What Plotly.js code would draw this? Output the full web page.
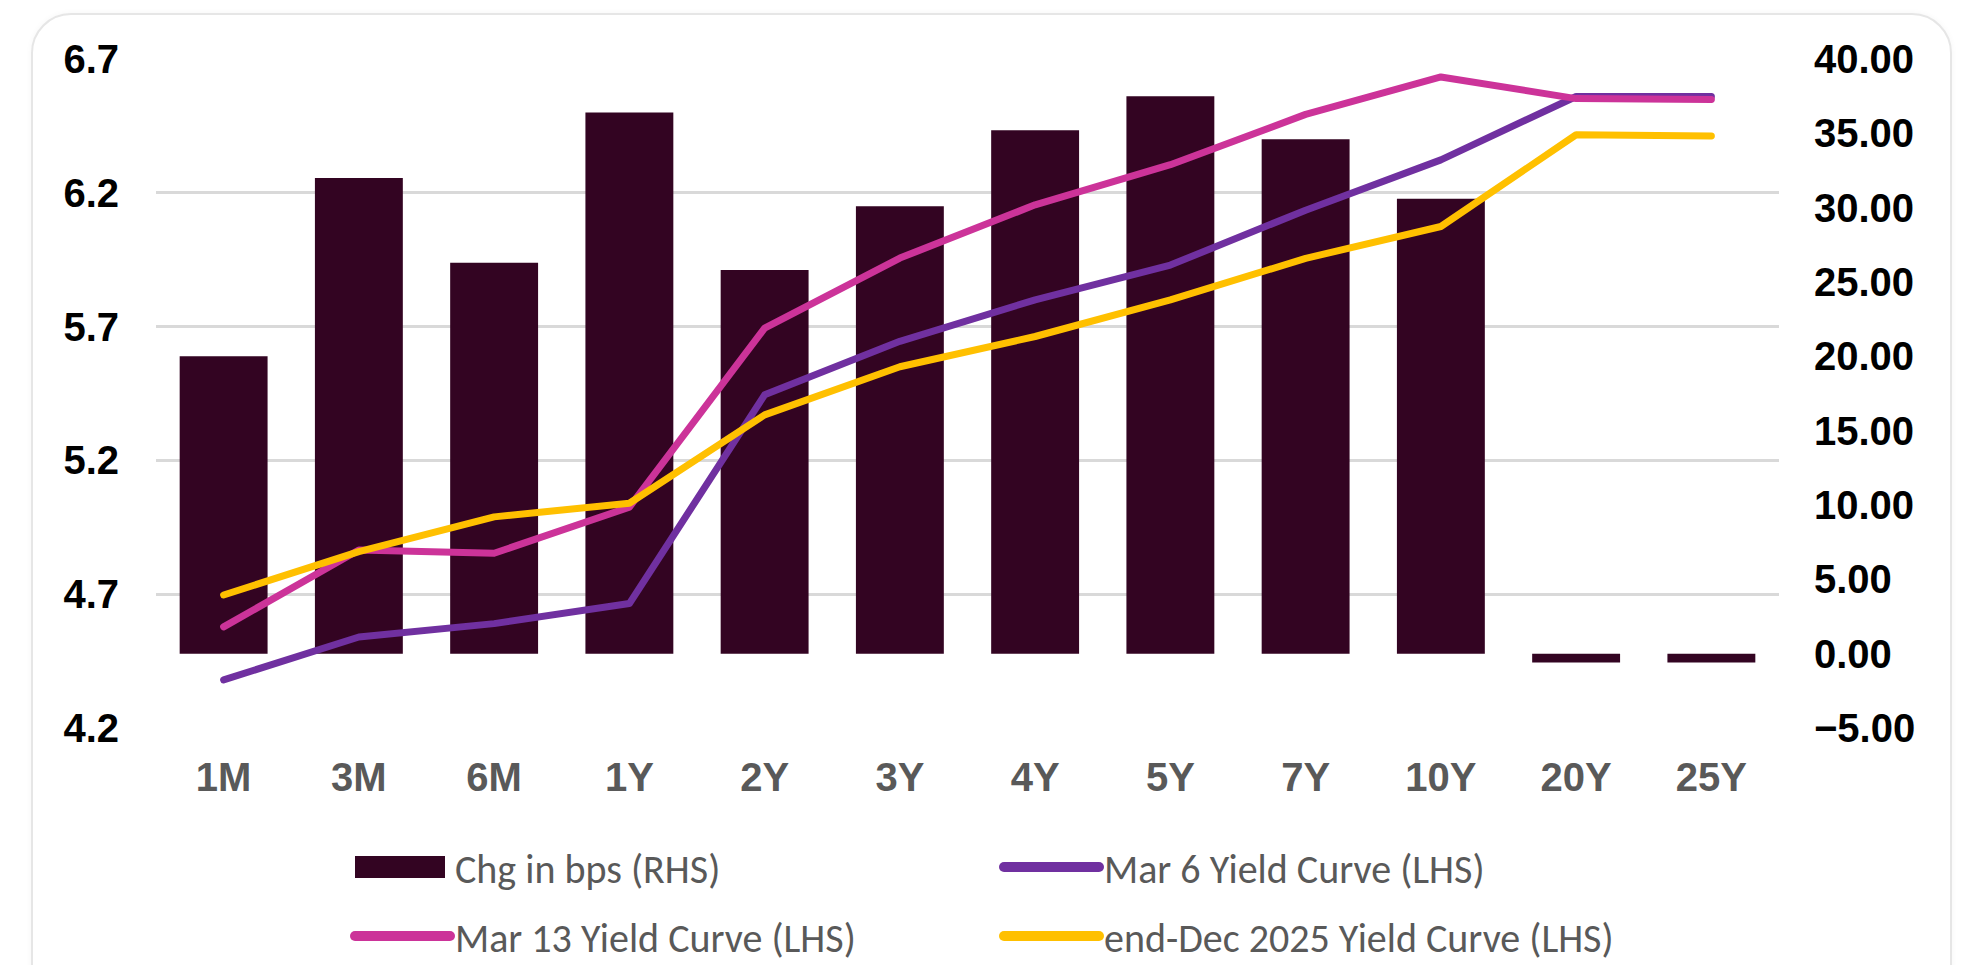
<!DOCTYPE html>
<html>
<head>
<meta charset="utf-8">
<script src="https://cdn.plot.ly/plotly-3.0.1.min.js"></script>
<style>
  html, body { margin: 0; padding: 0; background: #ffffff; }
  #card {
    position: absolute; left: 31px; top: 13px; width: 1917px; height: 1000px;
    border: 2px solid #e6e6e6; border-radius: 40px; background: #ffffff;
    box-shadow: 0 0 6px rgba(0,0,0,0.04);
  }
  #chart { position: absolute; left: 0; top: 0; width: 1970px; height: 965px; }
  .scatterlayer path.js-line { stroke-linecap: round; stroke-linejoin: round; }
</style>
</head>
<body>
<div id="card"></div>
<div id="chart"></div>
<script>
// ---- data ----
const categories = ['1M', '3M', '6M', '1Y', '2Y', '3Y', '4Y', '5Y', '7Y', '10Y', '20Y', '25Y'];
const chgBps     = [20.0, 32.0, 26.3, 36.4, 25.8, 30.1, 35.2, 37.5, 34.6, 30.6, -0.6, -0.6];
const mar6Curve  = [4.380, 4.540, 4.590, 4.665, 5.445, 5.645, 5.800, 5.930, 6.135, 6.323, 6.560, 6.560];
const mar13Curve = [4.578, 4.865, 4.853, 5.025, 5.694, 5.956, 6.155, 6.305, 6.493, 6.633, 6.552, 6.549];
const decCurve   = [4.697, 4.859, 4.989, 5.040, 5.370, 5.550, 5.663, 5.800, 5.955, 6.074, 6.417, 6.412];
const seriesNames = ['Chg in bps (RHS)', 'Mar 6 Yield Curve (LHS)', 'Mar 13 Yield Curve (LHS)', 'end-Dec 2025 Yield Curve (LHS)'];

const colBar = '#330422', colMar6 = '#7030A0', colMar13 = '#CC3399', colDec = '#FFC000';
const tickFont = { family: 'Liberation Sans, Arial, sans-serif', size: 40, color: '#000000', weight: 'bold' };

const traces = [
  { type: 'bar', name: seriesNames[0], x: categories, y: chgBps, yaxis: 'y',
    marker: { color: colBar, line: { width: 0 } }, legend: 'legend' },
  { type: 'scatter', mode: 'lines', name: seriesNames[1], x: categories, y: mar6Curve, yaxis: 'y2',
    line: { color: colMar6, width: 7 }, legend: 'legend' },
  { type: 'scatter', mode: 'lines', name: seriesNames[2], x: categories, y: mar13Curve, yaxis: 'y2',
    line: { color: colMar13, width: 7 }, legend: 'legend2' },
  { type: 'scatter', mode: 'lines', name: seriesNames[3], x: categories, y: decCurve, yaxis: 'y2',
    line: { color: colDec, width: 7 }, legend: 'legend2' }
];

const legendFont = { family: 'Carlito, Calibri, Lato, sans-serif', size: 40, color: '#595959' };
const legendBase = {
  orientation: 'h', xref: 'container', yref: 'container', xanchor: 'left', yanchor: 'middle',
  x: 350 / 1970, font: legendFont, itemwidth: 95, entrywidth: 539, entrywidthmode: 'pixels',
  bgcolor: 'rgba(0,0,0,0)', borderwidth: 0, itemclick: false, itemdoubleclick: false
};

const layout = {
  width: 1970, height: 965,
  margin: { l: 156, r: 191, t: 59, b: 237, pad: 0 },
  paper_bgcolor: 'rgba(0,0,0,0)', plot_bgcolor: 'rgba(0,0,0,0)',
  bargap: 0.35,
  showlegend: true,
  xaxis: {
    type: 'category', showgrid: false, showline: false, zeroline: false, ticks: '',
    tickfont: { family: 'Liberation Sans, Arial, sans-serif', size: 40, color: '#595959', weight: 'bold' },
    ticklabelstandoff: 22
  },
  yaxis: {
    side: 'right', range: [-5, 40], tick0: 0, dtick: 5, tickformat: '.2f',
    showgrid: false, zeroline: false, showline: false, ticks: '',
    tickfont: tickFont, ticklabelstandoff: 34
  },
  yaxis2: {
    overlaying: 'y', side: 'left', range: [4.2, 6.7], tick0: 4.2, dtick: 0.5, tickformat: '.1f',
    showgrid: true, gridcolor: '#D9D9D9', gridwidth: 2.5, zeroline: false, showline: false, ticks: '',
    tickfont: tickFont, ticklabelstandoff: 36
  },
  legend: Object.assign({}, legendBase, { y: 1 - 867 / 965 }),
  legend2: Object.assign({}, legendBase, { y: 1 - 936 / 965 })
};

function fixLegend() {
  // widen the bar legend swatch into a long rectangle like the reference
  document.querySelectorAll('#chart g.traces').forEach(function (g) {
    var d = g.__data__;
    var tr = d && d[0] && d[0].trace;
    if (!tr) return;
    if (tr.type === 'bar') {
      g.querySelectorAll('g.legendpoints path').forEach(function (p) {
        p.removeAttribute('transform');
        p.setAttribute('d', 'M5,-11H95V11H5Z');
      });
    } else {
      g.querySelectorAll('g.legendlines path').forEach(function (p) {
        p.style.strokeWidth = '10px';
        p.style.strokeLinecap = 'round';
      });
    }
  });
}

const gd = document.getElementById('chart');
Plotly.newPlot(gd, traces, layout, { displayModeBar: false }).then(function () {
  fixLegend();
  gd.on('plotly_afterplot', fixLegend);
  setTimeout(fixLegend, 200);
});
</script>
</body>
</html>
